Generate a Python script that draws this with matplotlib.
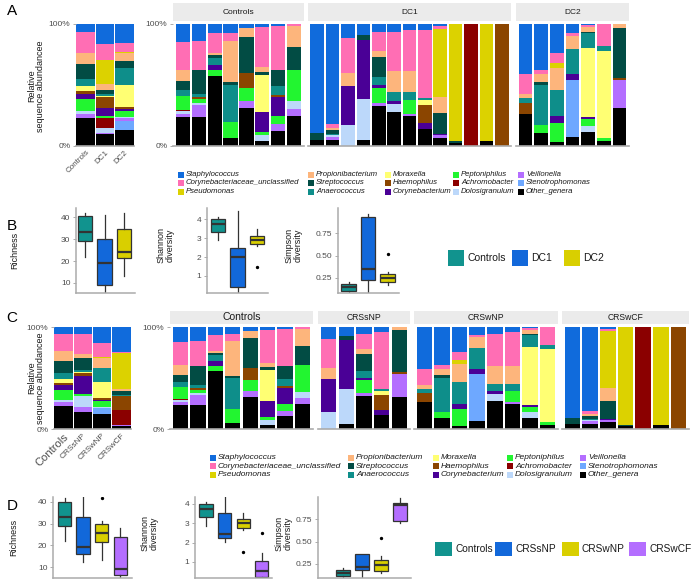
import numpy as np
import matplotlib.pyplot as plt
from matplotlib.patches import Rectangle

plt.rcParams['font.family'] = ['Liberation Sans', 'DejaVu Sans']

W, H = 696, 581

genus_keys = ['sta', 'coru', 'pse', 'pro', 'str', 'ana', 'mor', 'hae',
              'cor', 'pep', 'ach', 'dol', 'vei', 'ste', 'oth']
genus_names = ['Staphylococcus', 'Corynebacteriaceae_unclassified', 'Pseudomonas',
               'Propionibacterium', 'Streptococcus', 'Anaerococcus',
               'Moraxella', 'Haemophilus', 'Corynebacterium',
               'Peptoniphilus', 'Achromobacter', 'Dolosigranulum',
               'Veillonella', 'Stenotrophomonas', 'Other_genera']
genus_colors = ['#106BDC', '#FF6EB4', '#DCD200', '#FDB57C', '#024C44', '#0E8E8A',
                '#FFFF73', '#8B4500', '#4A0096', '#22F530', '#8B0000', '#BCD8FA',
                '#B46EFF', '#6EA8FF', '#000000']

# relative abundances (%) per sample
ctrl = [
    dict(sta=14.6, coru=22.9, pro=9.6, str=6.9, ana=4.7, pep=11.8, ach=1.1, dol=2.2, vei=2.8, oth=23.4),
    dict(sta=13.8, coru=24.2, str=19.3, ana=2.2, hae=1.9, pep=3.6, dol=1.4, vei=9.6, oth=24.0),
    dict(sta=7.7, coru=16.0, pro=1.9, str=1.9, ana=5.8, cor=4.7, pep=5.0, oth=57.0),
    dict(sta=7.2, coru=6.8, pro=33.7, str=2.7, ana=30.3, pep=13.0, oth=6.3),
    dict(sta=3.6, pro=6.9, str=29.5, hae=12.3, pep=10.5, vei=6.1, oth=31.1),
    dict(sta=2.8, coru=32.5, pro=4.1, str=2.7, mor=30.4, cor=15.9, pep=2.8, dol=4.7, oth=4.1),
    dict(sta=1.7, coru=36.3, str=13.2, ana=6.7, hae=1.6, cor=15.7, pep=6.9, vei=5.5, oth=12.4),
    dict(coru=1.7, pro=17.0, str=18.8, pep=25.9, dol=6.3, vei=5.5, oth=24.8),
]
dc1 = [
    dict(sta=89.3, str=6.0, oth=4.7),
    dict(sta=82.2, coru=2.8, pro=2.1, str=2.8, ana=1.3, dol=1.4, vei=2.2, oth=5.2),
    dict(sta=11.8, coru=28.2, pro=10.7, cor=32.3, dol=17.0),
    dict(sta=9.0, str=4.2, cor=47.9, dol=33.7, oth=5.2),
    dict(sta=6.8, coru=15.2, pro=4.8, str=16.5, ana=6.8, cor=2.2, pep=12.4, vei=2.7, oth=32.6),
    dict(sta=6.8, coru=31.8, pro=17.0, ana=7.4, cor=2.2, dol=6.9, oth=27.9),
    dict(sta=4.9, coru=33.5, pro=17.5, ana=6.6, pep=11.5, vei=1.3, oth=24.7),
    dict(sta=4.9, coru=55.6, ana=2.0, mor=4.1, hae=14.5, cor=4.7, oth=14.2),
    dict(sta=1.6, coru=2.8, pse=55.3, pro=13.2, str=17.0, cor=1.3, vei=2.0, oth=6.8),
    dict(pse=95.9, str=1.6, oth=2.5),
    dict(ach=100.0),
    dict(pse=96.2, oth=3.8),
    dict(hae=100.0),
]
dc2 = [
    dict(sta=41.1, coru=15.9, pro=3.3, ana=4.4, hae=9.3, oth=26.0),
    dict(sta=37.3, coru=3.8, pro=6.3, str=2.7, ana=32.9, pep=6.3, oth=10.7),
    dict(sta=24.1, coru=8.2, pse=4.1, pro=17.8, ana=21.4, cor=5.2, pep=15.9, oth=3.3),
    dict(sta=7.7, coru=2.2, pro=10.9, ana=20.3, cor=4.9, ste=46.6, oth=7.4),
    dict(sta=1.1, coru=1.6, pro=3.9, str=1.1, ana=11.8, mor=56.7, cor=1.9, pep=5.7, dol=5.0, oth=11.2),
    dict(coru=18.1, ana=3.8, mor=71.5, pep=2.5, oth=4.1),
    dict(pro=3.3, str=40.8, hae=1.9, vei=22.5, oth=31.5),
]
crssnp = [dc1[2], dc1[3], dc1[4], dc1[7], dc2[6]]
crswnp = [dc2[0], dc2[1], dc2[2], dc2[3], dc1[5], dc1[6], dc2[4], dc2[5]]
crswcf = [dc1[0], dc1[1], dc1[8], dc1[9], dc1[10], dc1[11], dc1[12]]

# box statistics: whislo, q1, med, q3, whishi
b_groups = ['Controls', 'DC1', 'DC2']
b_colors = ['#11938E', '#1268DA', '#D9CF00']
b_rich = [[22, 29, 33, 40.5, 42], [5, 9, 19, 30, 41], [13, 21.5, 24, 34.5, 42]]
b_rich_out = [[], [], []]
b_shan = [[2.88, 3.34, 3.72, 4.0, 4.12], [0.05, 0.4, 2.0, 2.5, 4.4], [2.6, 2.68, 2.87, 3.12, 3.5]]
b_shan_out = [[], [], [1.47]]
b_simp = [[0.09, 0.11, 0.146, 0.18, 0.21], [0.08, 0.23, 0.35, 0.93, 0.97], [0.17, 0.2, 0.25, 0.3, 0.32]]
b_simp_out = [[], [], [0.52]]

d_groups = ['Controls', 'CRSsNP', 'CRSwNP', 'CRSwCF']
d_colors = ['#11938E', '#1268DA', '#D9CF00', '#B46EFF']
d_rich = [[22, 29, 33, 40.2, 41.8], [12.5, 16, 19.1, 33, 42.3], [13.2, 21.4, 25.8, 29.7, 31], [5, 6.3, 9.1, 24, 27.9]]
d_rich_out = [[], [], [41.8], []]
d_shan = [[2.88, 3.34, 3.72, 4.0, 4.12], [2.05, 2.26, 2.45, 3.55, 4.36], [2.65, 2.77, 3.0, 3.2, 3.52], [0.17, 0.24, 0.53, 1.07, 1.45]]
d_shan_out = [[], [], [1.5], [2.51]]
d_simp = [[0.09, 0.11, 0.146, 0.18, 0.21], [0.09, 0.18, 0.22, 0.36, 0.36], [0.145, 0.175, 0.24, 0.3, 0.34], [0.705, 0.73, 0.91, 0.93, 0.985]]
d_simp_out = [[], [], [0.54], []]

fig = plt.figure(figsize=(W / 100, H / 100), dpi=100)
GRAY_TXT = '#4D4D4D'
AX_GRAY = '#ABABAB'


def px_axes(left, top, right, bottom):
    return fig.add_axes([left / W, 1 - bottom / H, (right - left) / W, (bottom - top) / H])


def rect(x0, y0, w, h, color):
    fig.add_artist(Rectangle((x0 / W, 1 - (y0 + h) / H), w / W, h / H,
                             transform=fig.transFigure, fc=color, ec='none'))


def ftext(x, y, s, **kw):
    fig.text(x / W, 1 - y / H, s, **kw)


def stacked(ax, samples, width, pad):
    comp = np.array([[s.get(g, 0.0) for g in genus_keys] for s in samples])
    comp = comp / comp.sum(axis=1, keepdims=True) * 100
    x = np.arange(len(samples))
    top = np.full(len(samples), 100.0)
    for j in range(len(genus_keys)):
        ax.bar(x, comp[:, j], width, bottom=top - comp[:, j], color=genus_colors[j], linewidth=0)
        top -= comp[:, j]
    ax.set_xlim(-pad, len(samples) - 1 + pad)
    ax.set_ylim(0, 100)
    for s in ['top', 'right', 'left']:
        ax.spines[s].set_visible(False)
    ax.spines['bottom'].set_color(AX_GRAY)
    ax.spines['bottom'].set_linewidth(1.2)
    ax.set_xticks([])
    ax.set_yticks([0, 100])
    ax.set_yticklabels(['0%', '100%'])
    ax.tick_params(axis='y', length=2.5, width=0.7, color=AX_GRAY, labelsize=6, labelcolor=GRAY_TXT, pad=1.5)


def mean_comp(samples):
    out = {}
    for g in genus_keys:
        out[g] = np.mean([s.get(g, 0.0) / sum(s.values()) * 100 for s in samples])
    return out


def facet(samples, left, right, top, bottom, strip_top, label, label_size, yaxis):
    ax = px_axes(left, top, right, bottom)
    stacked(ax, samples, 0.88, 0.6)
    if not yaxis:
        ax.set_yticks([])
    rect(left, strip_top, right - left, top - 3 - strip_top, '#EBEBEB')
    ftext((left + right) / 2, (strip_top + top - 3) / 2, label, ha='center', va='center',
          fontsize=label_size, color='#1A1A1A')


def summary(groups, labels, sizes, left, top, right, bottom):
    ax = px_axes(left, top, right, bottom)
    stacked(ax, [mean_comp(g) for g in groups], 0.95, 0.5)
    ax.set_xticks(range(len(labels)))
    ax.set_xticklabels(labels, rotation=45, ha='right', va='top', rotation_mode='anchor')
    ax.tick_params(axis='x', length=0, pad=2, labelcolor=GRAY_TXT)
    for t, s in zip(ax.get_xticklabels(), sizes):
        t.set_fontsize(s)


def legend_genera(cols, rows, size):
    for j, name in enumerate(genus_names):
        c, r = j // 3, j % 3
        rect(cols[c], rows[r] - 3, 6, 6, genus_colors[j])
        ftext(cols[c] + 8, rows[r], name, ha='left', va='center', fontsize=size,
              style='italic', color='#1A1A1A')


def diversity(stats, outs, colors, left, right, c0, sp, top, bottom, ylim, yticks, ylabels):
    ax = px_axes(left, top, right, bottom)
    st = [dict(whislo=s[0], q1=s[1], med=s[2], q3=s[3], whishi=s[4], fliers=o)
          for s, o in zip(stats, outs)]
    bp = ax.bxp(st, positions=range(len(st)), widths=0.72, patch_artist=True, showcaps=False,
                boxprops=dict(edgecolor='#333333', linewidth=0.9),
                medianprops=dict(color='#333333', linewidth=1.6),
                whiskerprops=dict(color='#333333', linewidth=0.9),
                flierprops=dict(marker='o', markersize=1.4, markerfacecolor='black',
                                markeredgecolor='black'))
    for p, c in zip(bp['boxes'], colors):
        p.set_facecolor(c)
    ax.set_xlim((left - c0) / sp, (right - c0) / sp)
    ax.set_ylim(*ylim)
    for s in ['top', 'right']:
        ax.spines[s].set_visible(False)
    for s in ['left', 'bottom']:
        ax.spines[s].set_color(AX_GRAY)
        ax.spines[s].set_linewidth(1.1)
    ax.set_xticks([])
    ax.set_yticks(yticks)
    ax.set_yticklabels(ylabels)
    ax.tick_params(axis='y', length=2.5, width=0.7, color=AX_GRAY, labelsize=6,
                   labelcolor=GRAY_TXT, pad=1.5)


def legend_groups(groups, colors, xs, yc, w, h, size):
    for g, c, x in zip(groups, colors, xs):
        rect(x, yc - h / 2, w, h, c)
        ftext(x + w + 3, yc, g, ha='left', va='center', fontsize=size, color='#1A1A1A')


# ---- A ----
ftext(12, 11, 'A', ha='center', va='center', fontsize=11)
ftext(36, 86, 'Relative\nsequence abundancee', rotation=90, ha='center', va='center',
      fontsize=6.5, color='#1A1A1A', linespacing=1.0)
summary([ctrl, dc1, dc2], b_groups, [5.8, 5.8, 5.8], 76, 24, 134, 146)
facet(ctrl, 173, 304, 24, 146, 3, 'Controls', 6, True)
facet(dc1, 308, 511, 24, 146, 3, 'DC1', 6, False)
facet(dc2, 516, 629, 24, 146, 3, 'DC2', 6, False)
legend_genera([178, 308, 385, 453, 518], [174.5, 183, 191.6], 5.6)

# ---- B ----
ftext(12, 226, 'B', ha='center', va='center', fontsize=11)
diversity(b_rich, b_rich_out, b_colors, 76, 135, 85, 19.5, 208, 293, (5.45, 44.1),
          [10, 20, 30, 40], ['10', '20', '30', '40'])
diversity(b_shan, b_shan_out, b_colors, 207, 268, 218, 19.5, 208, 293, (0.105, 4.58),
          [1, 2, 3, 4], ['1', '2', '3', '4'])
diversity(b_simp, b_simp_out, b_colors, 338, 399, 348.5, 19.5, 208, 293, (0.082, 1.034),
          [0.25, 0.5, 0.75], ['0.25', '0.50', '0.75'])
ftext(15, 250, 'Richness', rotation=90, ha='center', va='center', fontsize=6.5, color='#1A1A1A')
ftext(166, 245, 'Shannon\ndiversity', rotation=90, ha='center', va='center', fontsize=6.5,
      color='#1A1A1A', linespacing=1.0)
ftext(294, 245, 'Simpson\ndiversity', rotation=90, ha='center', va='center', fontsize=6.5,
      color='#1A1A1A', linespacing=1.0)
legend_groups(b_groups, b_colors, [448, 512, 564], 258, 16, 16, 7.5)

# ---- C ----
ftext(12, 318, 'C', ha='center', va='center', fontsize=11)
ftext(36, 378, 'Relative\nsequence abundancee', rotation=90, ha='center', va='center',
      fontsize=6.5, color='#1A1A1A', linespacing=1.0)
summary([ctrl, crssnp, crswnp, crswcf], d_groups, [8, 6, 6, 6], 54, 327, 131, 429)
facet(ctrl, 170, 313, 327, 429, 311, 'Controls', 7.5, True)
facet(crssnp, 318, 410, 327, 429, 311, 'CRSsNP', 6.2, False)
facet(crswnp, 414, 558, 327, 429, 311, 'CRSwNP', 6.2, False)
facet(crswcf, 562, 689, 327, 429, 311, 'CRSwCF', 6.2, False)
legend_genera([210, 348, 433, 507, 580], [457.7, 466, 475], 6)

# ---- D ----
ftext(12, 506, 'D', ha='center', va='center', fontsize=11)
diversity(d_rich, d_rich_out, d_colors, 53, 132, 64.5, 18.6, 497, 578, (4.94, 42.3),
          [10, 20, 30, 40], ['10', '20', '30', '40'])
diversity(d_shan, d_shan_out, d_colors, 195, 272, 206, 18.6, 497, 578, (0.17, 4.36),
          [1, 2, 3, 4], ['1', '2', '3', '4'])
diversity(d_simp, d_simp_out, d_colors, 318, 411, 343, 19, 497, 578, (0.093, 1.0),
          [0.25, 0.5, 0.75], ['0.25', '0.50', '0.75'])
ftext(14, 537, 'Richness', rotation=90, ha='center', va='center', fontsize=6.5, color='#1A1A1A')
ftext(150, 533, 'Shannon\ndiversity', rotation=90, ha='center', va='center', fontsize=6.5,
      color='#1A1A1A', linespacing=1.0)
ftext(284, 533, 'Simpson\ndiversity', rotation=90, ha='center', va='center', fontsize=6.5,
      color='#1A1A1A', linespacing=1.0)
legend_groups(d_groups, d_colors, [435, 495, 562, 629], 549, 17, 14, 7.3)

fig.savefig('out.png', dpi=100)
